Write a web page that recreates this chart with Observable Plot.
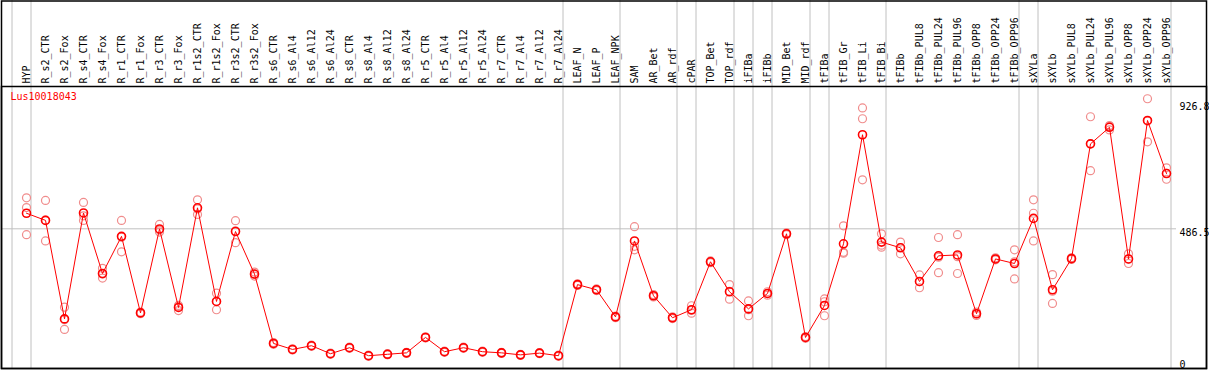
<!DOCTYPE html>
<html>
<head>
<meta charset="utf-8">
<script src="https://cdn.jsdelivr.net/npm/d3@7"></script>
<script src="https://cdn.jsdelivr.net/npm/@observablehq/plot@0.6"></script>
<style>
  html, body { margin: 0; padding: 0; background: white; }
  #chart svg { display: block; }
</style>
</head>
<body>
<div id="chart"></div>
<script>
const gene = "Lus10018043";
const categories = ["HYP","R_s2_CTR","R_s2_Fox","R_s4_CTR","R_s4_Fox","R_r1_CTR","R_r1_Fox","R_r3_CTR","R_r3_Fox","R_r1s2_CTR","R_r1s2_Fox","R_r3s2_CTR","R_r3s2_Fox","R_s6_CTR","R_s6_Al4","R_s6_Al12","R_s6_Al24","R_s8_CTR","R_s8_Al4","R_s8_Al12","R_s8_Al24","R_r5_CTR","R_r5_Al4","R_r5_Al12","R_r5_Al24","R_r7_CTR","R_r7_Al4","R_r7_Al12","R_r7_Al24","LEAF_N","LEAF_P","LEAF_NPK","SAM","AR_Bet","AR_rdf","cPAR","TOP_Bet","TOP_rdf","iFIBa","iFIBb","MID_Bet","MID_rdf","tFIBa","tFIB_Gr","tFIB_Li","tFIB_Bi","tFIBb","tFIBb_PUL8","tFIBb_PUL24","tFIBb_PUL96","tFIBb_OPP8","tFIBb_OPP24","tFIBb_OPP96","sXYLa","sXYLb","sXYLb_PUL8","sXYLb_PUL24","sXYLb_PUL96","sXYLb_OPP8","sXYLb_OPP24","sXYLb_OPP96"];
const means = [541,516,171,542,330,460,192,486,211,560,232,477,328,85,64,77,49,70,42,47,52,106,56,70,56,52,45,51,42,291,273,178,444,252,175,203,371,266,206,260,469,106,218,434,816,440,420,302,392,395,189,381,365,523,273,382,784,842,381,866,680];
const rep1 = [595,586,212,579,348,516,195,502,218,588,261,515,335,88,66,79,51,72,44,49,54,108,58,72,58,54,47,53,44,294,276,181,494,256,178,217,374,291,234,266,472,109,241,497,910,469,440,325,456,466,195,385,413,588,326,385,879,848,399,942,700];
const rep2 = [466,444,134,516,314,406,189,475,200,537,203,438,321,82,62,75,47,68,40,45,50,104,54,68,54,50,43,49,40,288,270,175,425,248,172,191,368,240,182,254,466,103,182,401,872,422,399,280,333,330,183,378,311,541,225,379,690,833,365,791,660];
const rep3 = [561,517,168,532,328,457,192,482,215,556,232,479,327,85,64,77,49,70,42,47,52,106,56,70,56,52,45,51,42,291,273,178,413,252,175,201,371,267,203,260,469,106,231,404,658,429,421,301,387,389,189,381,371,444,268,383,784,845,380,864,681];
const yTicksTop = [486.5, 926.8];
const yTicksBottom = [0];
const groupStarts = ["HYP","R_s2_CTR","LEAF_N","SAM","cPAR","TOP_Bet","iFIBa","iFIBb","MID_Bet","tFIBa","tFIB_Gr","tFIBb","sXYLa","sXYLb"];
const groupEnds = ["sXYLb_OPP96"];

const meanData = categories.map((c, i) => ({cat: c, value: means[i]}));
const repData = [rep1, rep2, rep3].flatMap(r => categories.map((c, i) => ({cat: c, value: r[i]})));

const mono = "'DejaVu Sans Mono', monospace";

const chart = Plot.plot({
  width: 1209,
  height: 370,
  marginTop: 86,
  marginBottom: 2,
  marginLeft: 1,
  marginRight: 3,
  style: {fontFamily: mono, fontSize: "10px", background: "white", color: "black"},
  x: {type: "point", domain: categories, range: [26, 1166], padding: 0, axis: null},
  y: {domain: [0, 926.8], range: [367.2, 102.6], axis: null},
  marks: [
    Plot.ruleY([486.5], {stroke: "#c0c0c0", strokeWidth: 1, insetRight: 30}),
    Plot.ruleX(groupStarts, {x: d => d, dx: -14.5, stroke: "#c0c0c0", strokeWidth: 1, insetTop: -86}),
    Plot.ruleX(groupEnds, {x: d => d, dx: 4.5, stroke: "#c0c0c0", strokeWidth: 1, insetTop: -86}),
    Plot.frame({stroke: "black", strokeWidth: 1.5}),
    Plot.frame({stroke: "black", strokeWidth: 1.5, insetTop: -85.5}),
    Plot.axisX({anchor: "top", ticks: categories, tickRotate: -90, tickSize: 0, tickPadding: 3, fontSize: 10, fontFamily: mono, label: null, fill: "black"}),
    Plot.dot(repData, {x: "cat", y: "value", r: 4, stroke: "#f08c8c", strokeWidth: 1.2, fill: "none"}),
    Plot.line(meanData, {x: "cat", y: "value", stroke: "red", strokeWidth: 1}),
    Plot.dot(meanData, {x: "cat", y: "value", r: 4, stroke: "red", strokeWidth: 1.6, fill: "none"}),
    Plot.text([gene], {frameAnchor: "top-left", dx: 9, dy: 6, textAnchor: "start", lineAnchor: "top", fill: "red", fontSize: 10, fontFamily: mono}),
    Plot.text(yTicksTop, {y: d => d, text: d => String(d), frameAnchor: "right", dx: -27, textAnchor: "start", lineAnchor: "top", fill: "black", fontSize: 10, fontFamily: mono}),
    Plot.text(yTicksBottom, {y: d => d, text: d => String(d), frameAnchor: "right", dx: -27, textAnchor: "start", lineAnchor: "bottom", fill: "black", fontSize: 10, fontFamily: mono})
  ]
});
document.getElementById("chart").appendChild(chart);
</script>
</body>
</html>
